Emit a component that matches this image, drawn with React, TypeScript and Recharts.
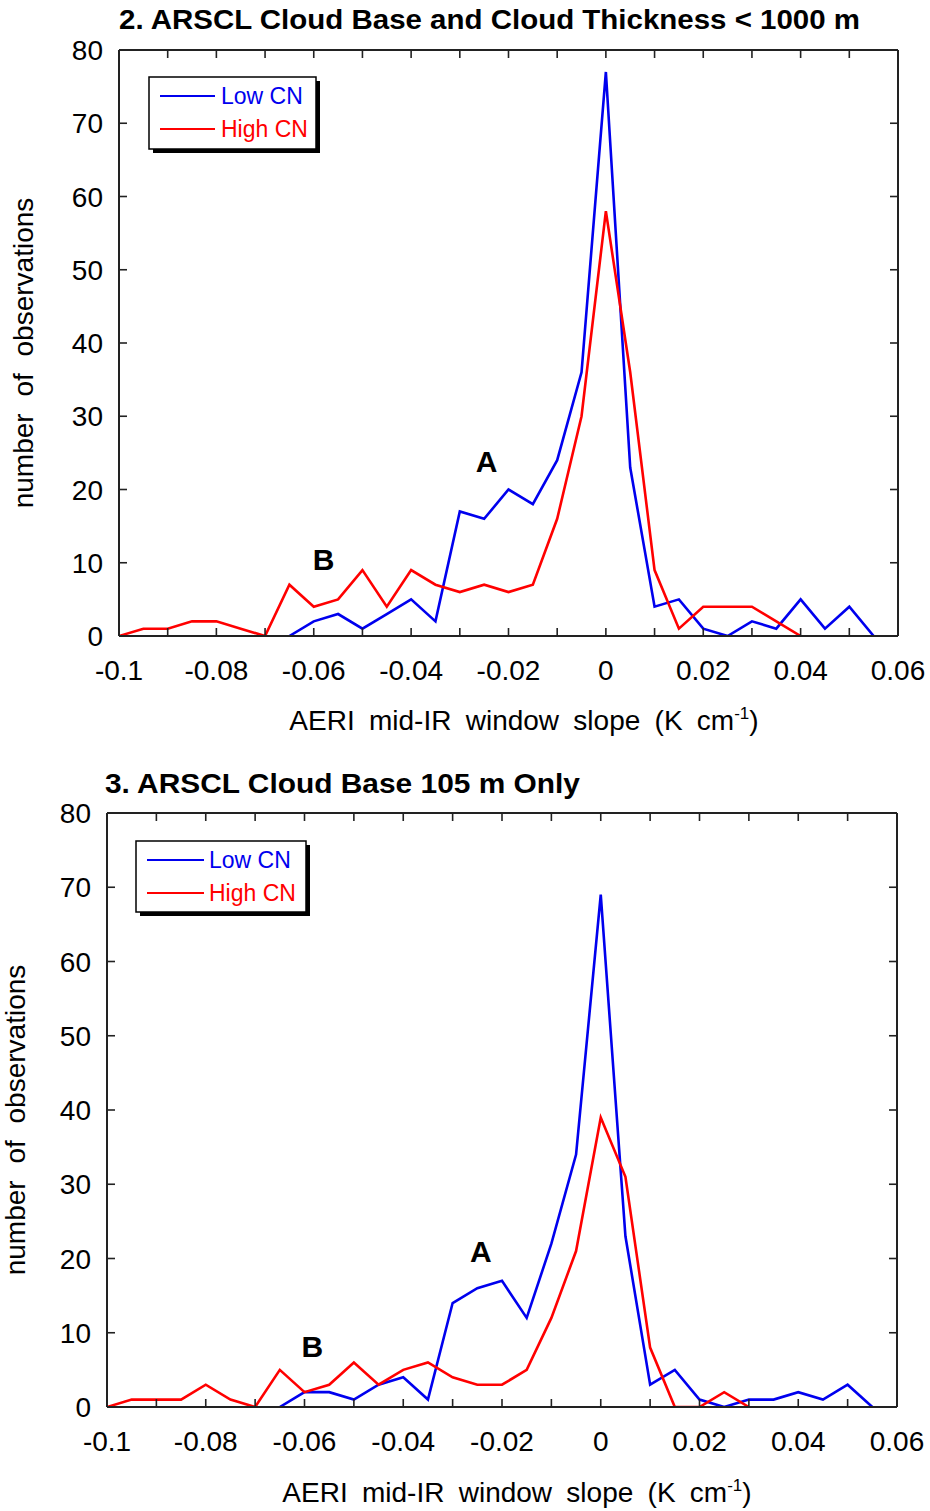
import React from 'react';
import { LineChart, Line, XAxis, YAxis, ReferenceDot } from 'recharts';

const FONT = "'Liberation Sans', Arial, Helvetica, sans-serif";
const AX = '#222';
const BLUE = '#0000ee';
const RED = '#ff0000';

// x categories (AERI mid-IR window slope, K cm^-1)
const slopes = [
  -0.1, -0.095, -0.09, -0.085, -0.08, -0.075, -0.07, -0.065, -0.06, -0.055, -0.05,
  -0.045, -0.04, -0.035, -0.03, -0.025, -0.02, -0.015, -0.01, -0.005, 0,
  0.005, 0.01, 0.015, 0.02, 0.025, 0.03, 0.035, 0.04, 0.045, 0.05, 0.055, 0.06,
];

const xTicks = [-0.1, -0.09, -0.08, -0.07, -0.06, -0.05, -0.04, -0.03, -0.02, -0.01, 0, 0.01, 0.02, 0.03, 0.04, 0.05, 0.06];
const xTickLabels = ['-0.1', '', '-0.08', '', '-0.06', '', '-0.04', '', '-0.02', '', '0', '', '0.02', '', '0.04', '', '0.06'];
const yTicks = [0, 10, 20, 30, 40, 50, 60, 70, 80];
const yTickLabels = ['0', '10', '20', '30', '40', '50', '60', '70', '80'];

// Panel 2: ARSCL Cloud Base and Cloud Thickness < 1000 m
const lowCnThick = [null, null, null, null, null, null, null, 0, 2, 3, 1, 3, 5, 2, 17, 16, 20, 18, 24, 36, 77, 23, 4, 5, 1, 0, 2, 1, 5, 1, 4, 0, null];
const highCnThick = [0, 1, 1, 2, 2, 1, 0, 7, 4, 5, 9, 4, 9, 7, 6, 7, 6, 7, 16, 30, 58, 36, 9, 1, 4, 4, 4, 2, 0, null, null, null, null];

// Panel 3: ARSCL Cloud Base 105 m Only
const lowCn105 = [null, null, null, null, null, null, null, 0, 2, 2, 1, 3, 4, 1, 14, 16, 17, 12, 22, 34, 69, 23, 3, 5, 1, 0, 1, 1, 2, 1, 3, 0, null];
const highCn105 = [0, 1, 1, 1, 3, 1, 0, 5, 2, 3, 6, 3, 5, 6, 4, 3, 3, 5, 12, 21, 39, 31, 8, 0, 0, 2, 0, null, null, null, null, null, null];

const notesThick = [
  { text: 'A', x: -0.0245, y: 23.9 },
  { text: 'B', x: -0.058, y: 10.5 },
];
const notes105 = [
  { text: 'A', x: -0.0243, y: 21 },
  { text: 'B', x: -0.0584, y: 8.2 },
];

const buildRows = (low: (number | null)[], high: (number | null)[]) =>
  slopes.map((x, i) => ({ x, low: low[i], high: high[i] }));

const tickIndex = (props: any) => {
  const v = props?.payload?.value;
  const i = xTicks.indexOf(v);
  return i >= 0 ? i : props.index;
};

const BottomTick = (props: any) => {
  const { x, y } = props;
  const i = tickIndex(props);
  return (
    <g>
      <line x1={x} y1={y} x2={x} y2={y - 8} stroke={AX} strokeWidth={1.6} />
      <text x={x} y={y + 44} textAnchor="middle" fontSize={28} fontFamily={FONT} fill="#000">
        {xTickLabels[i]}
      </text>
    </g>
  );
};

const TopTick = (props: any) => {
  const { x, y } = props;
  return <line x1={x} y1={y} x2={x} y2={y + 8} stroke={AX} strokeWidth={1.6} />;
};

const LeftTick = (props: any) => {
  const { x, y, payload } = props;
  const i = yTicks.indexOf(payload?.value);
  return (
    <g>
      <line x1={x} y1={y} x2={x + 8} y2={y} stroke={AX} strokeWidth={1.6} />
      <text x={x - 16} y={y} dy="0.36em" textAnchor="end" fontSize={28} fontFamily={FONT} fill="#000">
        {yTickLabels[i >= 0 ? i : props.index]}
      </text>
    </g>
  );
};

const RightTick = (props: any) => {
  const { x, y } = props;
  return <line x1={x} y1={y} x2={x - 8} y2={y} stroke={AX} strokeWidth={1.6} />;
};

type PanelProps = {
  top: number;
  height: number;
  plotLeft: number;
  plotRight: number;
  plotTop: number;
  plotBottom: number;
  low: (number | null)[];
  high: (number | null)[];
  notes: { text: string; x: number; y: number }[];
};

const Panel = ({ top, height, plotLeft, plotRight, plotTop, plotBottom, low, high, notes }: PanelProps) => {
  const data = buildRows(low, high);
  const axisLine = { stroke: AX, strokeWidth: 2 };
  return (
    <div style={{ position: 'absolute', left: 0, top, width: 930, height }}>
      <LineChart
        width={930}
        height={height}
        data={data}
        margin={{ top: plotTop - 1, left: plotLeft - 1, right: 930 - plotRight - 1, bottom: height - plotBottom - 1 }}
      >
        <XAxis
          xAxisId="b"
          dataKey="x"
          type="number"
          domain={[-0.1, 0.06]}
          allowDataOverflow
          ticks={xTicks}
          interval={0}
          height={1}
          tickSize={0}
          tickMargin={0}
          tickLine={false}
          axisLine={axisLine}
          tick={<BottomTick />}
        />
        <XAxis
          xAxisId="t"
          orientation="top"
          type="number"
          dataKey="x"
          domain={[-0.1, 0.06]}
          allowDataOverflow
          ticks={xTicks}
          interval={0}
          height={1}
          tickSize={0}
          tickMargin={0}
          tickLine={false}
          axisLine={axisLine}
          tick={<TopTick />}
        />
        <YAxis
          yAxisId="l"
          type="number"
          domain={[0, 80]}
          allowDataOverflow
          ticks={yTicks}
          interval={0}
          width={1}
          tickSize={0}
          tickMargin={0}
          tickLine={false}
          axisLine={axisLine}
          tick={<LeftTick />}
        />
        <YAxis
          yAxisId="r"
          orientation="right"
          type="number"
          domain={[0, 80]}
          allowDataOverflow
          ticks={yTicks}
          interval={0}
          width={1}
          tickSize={0}
          tickMargin={0}
          tickLine={false}
          axisLine={axisLine}
          tick={<RightTick />}
        />
        <Line
          xAxisId="b"
          yAxisId="l"
          type="linear"
          dataKey="low"
          stroke={BLUE}
          strokeWidth={2.6}
          dot={false}
          activeDot={false}
          isAnimationActive={false}
        />
        <Line
          xAxisId="b"
          yAxisId="l"
          type="linear"
          dataKey="high"
          stroke={RED}
          strokeWidth={2.6}
          dot={false}
          activeDot={false}
          isAnimationActive={false}
        />
        {notes.map((n) => (
          <ReferenceDot
            key={n.text}
            xAxisId="b"
            yAxisId="l"
            x={n.x}
            y={n.y}
            r={0}
            fill="none"
            stroke="none"
            label={{ value: n.text, position: 'center', fontSize: 30, fontWeight: 'bold', fill: '#000', fontFamily: FONT }}
          />
        ))}
      </LineChart>
    </div>
  );
};

const LegendBox = ({ x, y, w, h, row1, row2, lineX1, lineX2, textX }: any) => (
  <g>
    <rect x={x + 4} y={y + 4} width={w} height={h} fill="#000" />
    <rect x={x} y={y} width={w} height={h} fill="#fff" stroke="#000" strokeWidth={1.5} />
    <line x1={lineX1} x2={lineX2} y1={row1} y2={row1} stroke={BLUE} strokeWidth={2} />
    <text x={textX} y={row1 + 8} fontSize={23} fontFamily={FONT} fill={BLUE}>Low CN</text>
    <line x1={lineX1} x2={lineX2} y1={row2} y2={row2} stroke={RED} strokeWidth={2} />
    <text x={textX} y={row2 + 8} fontSize={23} fontFamily={FONT} fill={RED}>High CN</text>
  </g>
);

export default function App() {
  return (
    <div style={{ position: 'absolute', left: 0, top: 0, width: 930, height: 1511, background: '#fff', fontFamily: FONT }}>
      <Panel
        top={0}
        height={760}
        plotLeft={119}
        plotRight={898}
        plotTop={50}
        plotBottom={636}
        low={lowCnThick}
        high={highCnThick}
        notes={notesThick}
      />
      <Panel
        top={760}
        height={751}
        plotLeft={107}
        plotRight={897}
        plotTop={53}
        plotBottom={647}
        low={lowCn105}
        high={highCn105}
        notes={notes105}
      />
      <svg width={930} height={1511} style={{ position: 'absolute', left: 0, top: 0, pointerEvents: 'none' }}>
        <text x={119} y={29} fontSize={28} fontWeight="bold" fontFamily={FONT} textLength={741} lengthAdjust="spacingAndGlyphs">
          2. ARSCL Cloud Base and Cloud Thickness &lt; 1000 m
        </text>
        <text x={105} y={793} fontSize={28} fontWeight="bold" fontFamily={FONT} textLength={475} lengthAdjust="spacingAndGlyphs">
          3. ARSCL Cloud Base 105 m Only
        </text>
        <text x={524} y={730} textAnchor="middle" fontSize={28} fontFamily={FONT} wordSpacing={6.5}>
          AERI mid-IR window slope (K cm<tspan dy={-11} fontSize={17}>-1</tspan><tspan dy={11}>)</tspan>
        </text>
        <text x={517} y={1502} textAnchor="middle" fontSize={28} fontFamily={FONT} wordSpacing={6.5}>
          AERI mid-IR window slope (K cm<tspan dy={-11} fontSize={17}>-1</tspan><tspan dy={11}>)</tspan>
        </text>
        <text transform="translate(33,353) rotate(-90)" textAnchor="middle" fontSize={28} fontFamily={FONT} wordSpacing={9}>
          number of observations
        </text>
        <text transform="translate(25,1120) rotate(-90)" textAnchor="middle" fontSize={28} fontFamily={FONT} wordSpacing={9}>
          number of observations
        </text>
        <LegendBox x={149} y={77} w={167} h={72} row1={96} row2={129} lineX1={160} lineX2={215} textX={221} />
        <LegendBox x={136} y={841} w={170} h={71} row1={860} row2={893} lineX1={147} lineX2={204} textX={209} />
      </svg>
    </div>
  );
}
